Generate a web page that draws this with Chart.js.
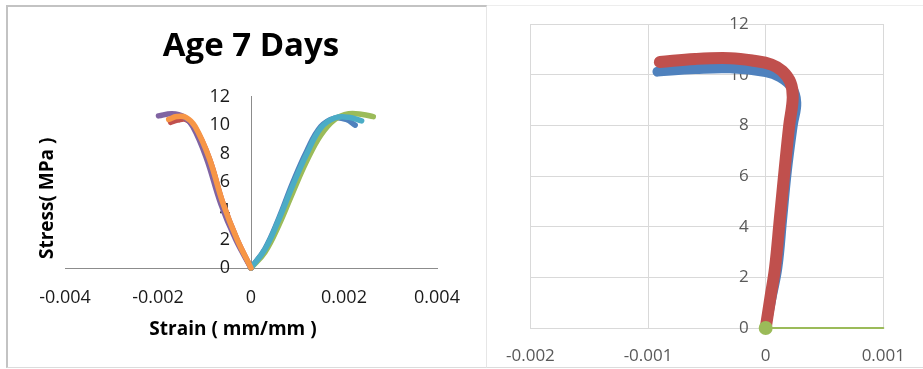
<!DOCTYPE html>
<html>
<head>
<meta charset="utf-8">
<script src="https://cdn.jsdelivr.net/npm/chart.js@4.4.1/dist/chart.umd.min.js"></script>
<style>
  html, body { margin: 0; padding: 0; background: #fff; }
  body { width: 923px; height: 369px; position: relative; overflow: hidden; }
  .frame { position: absolute; box-sizing: border-box; }
  #frameL { left: 6px; top: 5px; width: 481px; height: 363px;
            border-left: 2px solid #c3c3c3; border-top: 2px solid #c3c3c3;
            border-right: 1px solid #e6e6e6; border-bottom: 1px solid #dcdcdc; }
  #frameR { left: 487px; top: 5px; width: 436px; height: 363px;
            border-top: 1px solid #ededed; border-bottom: 1px solid #dcdcdc; }
  canvas { position: absolute; }
  #ageChart  { left: 8px;   top: 7px; }
  #zoomChart { left: 488px; top: 7px; }
</style>
</head>
<body>
<div class="frame" id="frameL"></div>
<div class="frame" id="frameR"></div>
<canvas id="ageChart" width="476" height="358"></canvas>
<canvas id="zoomChart" width="435" height="358"></canvas>

<script>
/* ── Data ───────────────────────────────────────────── */
// Age 7 days: six specimens, tension side (+) and compression side (-)
const ageXTicks = [-0.004, -0.002, 0, 0.002, 0.004];
const ageYTicks = [0, 2, 4, 6, 8, 10, 12];

const blueStrain   = [0, 0.0003, 0.0006, 0.0009, 0.0012, 0.0015, 0.0018, 0.00205, 0.00224];
const blueStress   = [0, 1.35, 3.5, 6.0, 8.2, 9.9, 10.5, 10.4, 10.0];
const redStrain    = [0, -0.0003, -0.0006, -0.0009, -0.0012, -0.0014, -0.00158, -0.00173];
const redStress    = [0, 2.0, 4.5, 7.7, 9.8, 10.4, 10.35, 10.2];
const greenStrain  = [0, 0.0003, 0.0006, 0.0009, 0.0012, 0.0015, 0.0018, 0.0021, 0.0024, 0.00263];
const greenStress  = [0, 1.1, 3.0, 5.3, 7.5, 9.3, 10.4, 10.8, 10.75, 10.6];
const purpleStrain = [0, -0.00033, -0.00065, -0.00096, -0.00125, -0.00145, -0.0017, -0.00199];
const purpleStress = [0, 2.0, 4.5, 7.7, 9.9, 10.6, 10.8, 10.65];
const aquaStrain   = [0, 0.0003, 0.0006, 0.0009, 0.0012, 0.0015, 0.0018, 0.0021, 0.00238];
const aquaStress   = [0, 1.3, 3.4, 5.8, 8.0, 9.8, 10.5, 10.55, 10.3];
const orangeStrain = [0, -0.0003, -0.0006, -0.0009, -0.0012, -0.0014, -0.0016, -0.00177];
const orangeStress = [0, 2.0, 4.5, 7.7, 9.9, 10.55, 10.6, 10.4];

// Right panel: close-up of one specimen
const zoomXTicks = [-0.002, -0.001, 0, 0.001];
const zoomYTicks = [0, 2, 4, 6, 8, 10, 12];

const zBlueStrain  = [0, 0.00005, 0.0001, 0.00014, 0.00018, 0.00023, 0.00026, 0.00022, 0.00012, 0, -0.0003, -0.0006, -0.00092];
const zBlueStress  = [0, 1.2, 2.4, 4.3, 6.2, 8.0, 8.9, 9.5, 9.9, 10.1, 10.25, 10.22, 10.12];
const zRedStrain   = [0, 0.00004, 0.00008, 0.00012, 0.00016, 0.0002, 0.00023, 0.00021, 0.00014, 0.00005, -0.0001, -0.0003, -0.0006, -0.0009];
const zRedStress   = [0, 1.2, 2.4, 4.3, 6.2, 8.0, 9.1, 9.7, 10.15, 10.4, 10.55, 10.65, 10.62, 10.5];
const zGreenStrain = [0, 0.001];
const zGreenStress = [0, 0];

/* ── Helpers ────────────────────────────────────────── */
const pts = (xs, ys) => xs.map((x, i) => ({ x, y: ys[i] }));
const fixTicks = list => scale => { scale.ticks = list.map(value => ({ value })); };

// axis titles drawn relative to the chart area
const axisTitles = {
  id: 'axisTitles',
  afterDraw(chart, args, opts) {
    if (!opts.x) return;
    const { ctx, chartArea: a } = chart;
    ctx.save();
    ctx.font = 'bold 19px "Open Sans"';
    ctx.fillStyle = '#000';
    ctx.textAlign = 'center';
    ctx.textBaseline = 'middle';
    ctx.fillText(opts.x, (a.left + a.right) / 2 - 18, a.bottom + 62);
    ctx.translate(a.left - 17, (a.top + a.bottom) / 2 + 16);
    ctx.rotate(-Math.PI / 2);
    ctx.fillText(opts.y, 0, 0);
    ctx.restore();
  },
};

// y axis sits at x = 0; push its labels off the axis line like Excel does
const yLabelGap = {
  id: 'yLabelGap',
  beforeDraw(chart, args, opts) {
    const items = chart.scales.y.getLabelItems(chart.chartArea);
    items.forEach(it => {
      if (it._moved) return;
      it.options.translation[0] -= opts.gap || 0;
      it._moved = true;
    });
  },
};

function line(strain, stress, color, width, order) {
  return {
    data: pts(strain, stress),
    showLine: true,
    borderColor: color,
    backgroundColor: color,
    borderWidth: width,
    borderCapStyle: 'round',
    borderJoinStyle: 'round',
    pointRadius: 0,
    tension: 0.4,
    clip: false,
    order,
  };
}

/* ── Age 7 Days ─────────────────────────────────────── */
new Chart(document.getElementById('ageChart'), {
  type: 'scatter',
  data: {
    datasets: [
      line(blueStrain,   blueStress,   '#4F81BD', 5.5, 6),
      line(redStrain,    redStress,    '#C0504D', 5.5, 5),
      line(greenStrain,  greenStress,  '#9BBB59', 5.5, 4),
      line(purpleStrain, purpleStress, '#8064A2', 5.5, 3),
      line(aquaStrain,   aquaStress,   '#4BACC6', 5.5, 2),
      line(orangeStrain, orangeStress, '#F79646', 5.5, 1),
    ],
  },
  plugins: [axisTitles, yLabelGap],
  options: {
    responsive: false,
    animation: false,
    layout: { padding: { left: 57, right: 47, top: 0, bottom: 97 } },
    plugins: {
      legend: { display: false },
      tooltip: { enabled: false },
      title: {
        display: true,
        text: 'Age 7 Days',
        color: '#000',
        font: { family: '"Open Sans"', size: 33, weight: 'bold', lineHeight: 1.2 },
        padding: { top: 20, bottom: 30 },
      },
      axisTitles: { x: 'Strain ( mm/mm )', y: 'Stress( MPa )' },
      yLabelGap: { gap: 21 },
    },
    scales: {
      x: {
        type: 'linear',
        position: { y: 0 },
        min: -0.004, max: 0.004,
        afterBuildTicks: fixTicks(ageXTicks),
        grid: { drawOnChartArea: false, drawTicks: false },
        border: { color: '#8c8c8c', width: 1 },
        ticks: { color: '#1a1a1a', padding: 19, font: { family: '"Open Sans"', size: 18 },
                 callback: v => String(v) },
      },
      y: {
        type: 'linear',
        position: { x: 0 },
        min: 0, max: 12,
        afterBuildTicks: fixTicks(ageYTicks),
        grid: { drawOnChartArea: false, drawTicks: false },
        border: { color: '#8c8c8c', width: 1 },
        ticks: { color: '#1a1a1a', padding: 0, font: { family: '"Open Sans"', size: 18 } },
      },
    },
  },
});

/* ── Close-up ───────────────────────────────────────── */
const greenLine = line(zGreenStrain, zGreenStress, '#9BBB59', 2, 1);
greenLine.pointRadius = [6, 0];
greenLine.tension = 0;

new Chart(document.getElementById('zoomChart'), {
  type: 'scatter',
  data: {
    datasets: [
      line(zBlueStrain, zBlueStress, '#4F81BD', 10, 3),
      line(zRedStrain,  zRedStress,  '#C0504D', 12, 2),
      greenLine,
    ],
  },
  plugins: [yLabelGap],
  options: {
    responsive: false,
    animation: false,
    layout: { padding: { left: 39, right: 26, top: 17, bottom: 37 } },
    plugins: {
      legend: { display: false },
      tooltip: { enabled: false },
      yLabelGap: { gap: 17 },
    },
    scales: {
      x: {
        type: 'linear',
        position: { y: 0 },
        min: -0.002, max: 0.001,
        afterBuildTicks: fixTicks(zoomXTicks),
        grid: { color: '#d9d9d9', drawTicks: false },
        border: { color: '#d9d9d9' },
        ticks: { color: '#595959', padding: 18, font: { family: '"Open Sans"', size: 17 },
                 callback: v => String(v) },
      },
      y: {
        type: 'linear',
        position: { x: 0 },
        min: 0, max: 12,
        afterBuildTicks: fixTicks(zoomYTicks),
        grid: { color: '#d9d9d9', drawTicks: false },
        border: { color: '#d9d9d9' },
        ticks: { color: '#595959', padding: 0, font: { family: '"Open Sans"', size: 17 } },
      },
    },
  },
});
</script>
</body>
</html>
